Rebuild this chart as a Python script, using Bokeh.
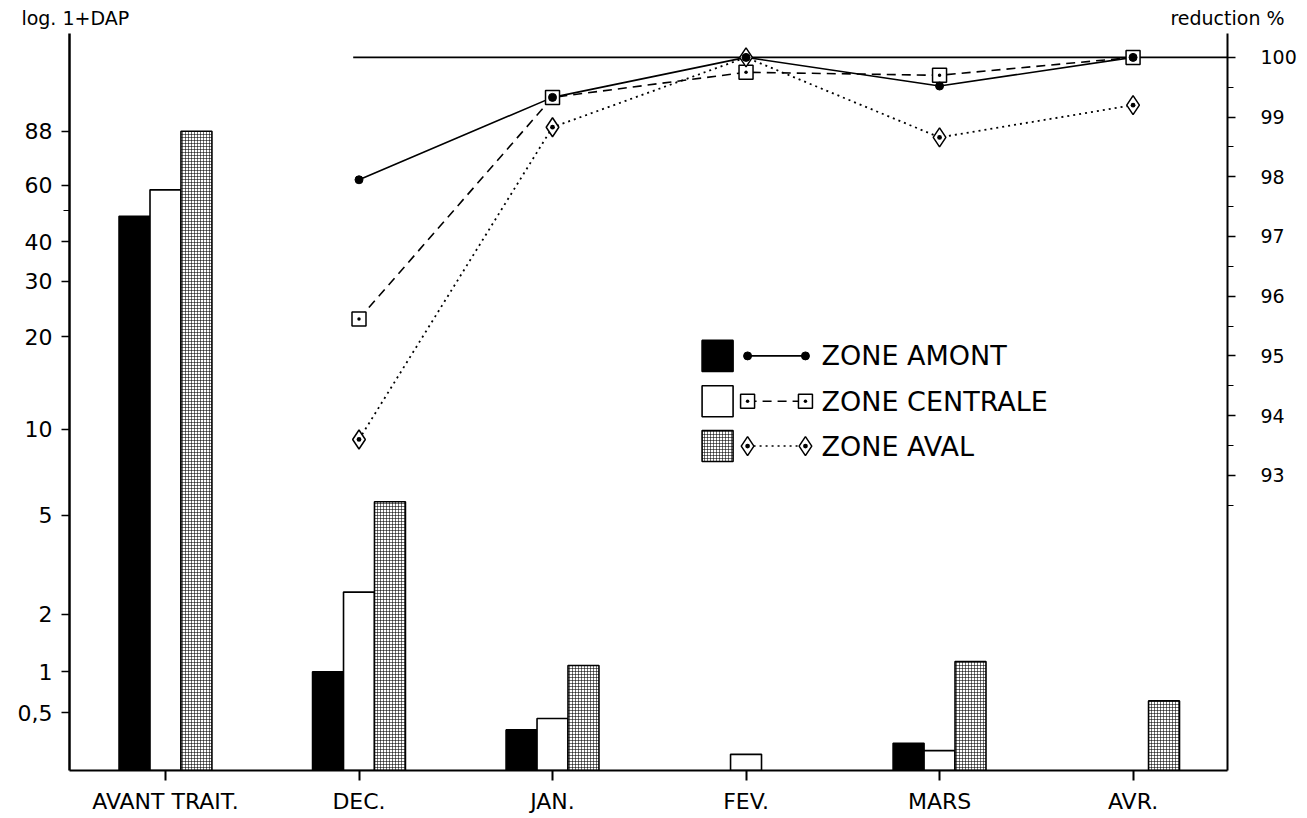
import math
from bokeh.plotting import figure
from bokeh.models import (Range1d, LinearAxis, LinearScale, FixedTicker)
from bokeh.embed import file_html
from bokeh.resources import INLINE
from bokeh.core.properties import value

# ---------------- data ----------------
categories = ["AVANT TRAIT.", "DEC.", "JAN.", "FEV.", "MARS", "AVR."]
# DAP values (bars, left log(1+DAP) axis); 0 = no bar
dap_amont = [48.0, 1.0, 0.33, 0.0, 0.21, 0.0]
dap_centrale = [58.0, 2.5, 0.44, 0.12, 0.15, 0.0]
dap_aval = [88.0, 5.6, 1.09, 0.0, 1.15, 0.63]

# reduction % (lines, right axis) for DEC..AVR
months = ["DEC.", "JAN.", "FEV.", "MARS", "AVR."]
red_amont = [97.95, 99.33, 100.0, 99.52, 100.0]
red_centrale = [95.62, 99.33, 99.75, 99.70, 100.0]
red_aval = [93.60, 98.83, 100.0, 98.66, 99.20]

left_ticks = [0.5, 1, 2, 5, 10, 20, 30, 40, 60, 88]
left_tick_labels = ["0,5", "1", "2", "5", "10", "20", "30", "40", "60", "88"]
left_minor = [50]
right_ticks = [93, 94, 95, 96, 97, 98, 99, 100]
right_minor = [92.5, 93.5, 94.5, 95.5, 96.5, 97.5, 98.5, 99.5]
legend_labels = ["ZONE AMONT", "ZONE CENTRALE", "ZONE AVAL"]
left_title = "log. 1+DAP"
right_title = "reduction %"

# ---------------- layout / style ----------------
FONT = "DejaVu Sans"
X_START, X_END = -0.496, 5.488
Y_TOP_LOG = 10 ** 2.2476
RED_RANGE = (88.056, 100.40)
BAR_W = 0.16
OFFSETS = [-0.16, 0.0, 0.16]

p = figure(width=1305, height=816, output_backend="svg", toolbar_location=None,
           x_range=Range1d(X_START, X_END), y_range=Range1d(1, Y_TOP_LOG),
           y_axis_type="log",
           min_border_left=69, min_border_right=78, min_border_top=33,
           min_border_bottom=44)
p.extra_y_ranges = {"red": Range1d(*RED_RANGE)}
p.extra_y_scales = {"red": LinearScale()}
p.outline_line_color = None
p.xgrid.visible = False
p.ygrid.visible = False
p.background_fill_color = "white"
p.border_fill_color = "white"

# x axis with category labels
xa = p.xaxis[0]
xa.ticker = FixedTicker(ticks=list(range(len(categories))), minor_ticks=[])
xa.major_label_overrides = {i: c for i, c in enumerate(categories)}
xa.major_label_text_font = FONT
xa.major_label_text_font_size = "22px"
xa.major_label_text_color = "black"
xa.major_label_standoff = 8
xa.major_tick_in = 0
xa.major_tick_out = 10
xa.minor_tick_out = 0
xa.axis_line_width = 2
xa.major_tick_line_width = 2

# top axis carrying the two axis titles as its labels
T_LEFT = X_START + 0.03
T_RIGHT = X_END - 1e-9
ta = LinearAxis(ticker=FixedTicker(ticks=[T_LEFT, T_RIGHT], minor_ticks=[]))
ta.major_label_overrides = {T_LEFT: left_title, T_RIGHT: right_title}
ta.major_label_text_font = FONT
ta.major_label_text_font_size = "19px"
ta.major_label_text_color = "black"
ta.major_label_standoff = 5
ta.major_tick_in = 0
ta.major_tick_out = 0
ta.minor_tick_out = 0
ta.axis_line_color = None
ta.major_tick_line_color = None
p.add_layout(ta, "above")

# left axis
ya = p.yaxis[0]
ya.ticker = FixedTicker(ticks=[1 + v for v in left_ticks],
                        minor_ticks=[1 + v for v in left_minor])
ya.major_label_overrides = {1 + v: lab for v, lab in zip(left_ticks, left_tick_labels)}
ya.major_label_text_font = FONT
ya.major_label_text_font_size = "22px"
ya.major_label_text_color = "black"
ya.major_label_standoff = 9
ya.major_tick_in = 0
ya.major_tick_out = 8
ya.minor_tick_in = 0
ya.minor_tick_out = 6
ya.axis_line_width = 2.5
ya.major_tick_line_width = 1.5

# right axis
ra = LinearAxis(y_range_name="red",
                ticker=FixedTicker(ticks=right_ticks, minor_ticks=right_minor))
ra.major_label_text_font = FONT
ra.major_label_text_font_size = "19px"
ra.major_label_text_color = "black"
ra.major_label_standoff = 25
ra.major_tick_in = 0
ra.major_tick_out = 8
ra.minor_tick_in = 0
ra.minor_tick_out = 6
ra.axis_line_width = 2
ra.major_tick_line_width = 1.5
p.add_layout(ra, "right")

# ---------------- bars ----------------
bar_styles = [
    dict(fill_color="black"),
    dict(fill_color="white"),
    dict(fill_color="white", hatch_pattern="cross", hatch_scale=3,
         hatch_weight=0.8, hatch_color="black", hatch_alpha=0.7),
]
for vals, off, st in zip([dap_amont, dap_centrale, dap_aval], OFFSETS, bar_styles):
    xs = [i + off for i, v in enumerate(vals) if v > 0]
    tops = [1 + v for v in vals if v > 0]
    p.vbar(x=xs, top=tops, bottom=1, width=BAR_W, line_color="black",
           line_width=1.6, **st)

# ---------------- lines ----------------
mx = [categories.index(m) for m in months]
# 100 % reference line
p.segment(x0=[mx[0] - 0.03], x1=[X_END], y0=[100], y1=[100],
          y_range_name="red", line_color="black", line_width=1.6)

p.line(mx, red_centrale, y_range_name="red", line_color="black",
       line_width=1.6, line_dash="9 6")
p.line(mx, red_aval, y_range_name="red", line_color="black",
       line_width=1.8, line_dash="2 4")
p.line(mx, red_amont, y_range_name="red", line_color="black", line_width=1.6)
p.scatter(mx, red_centrale, y_range_name="red", marker="square_dot", size=14,
          fill_color="white", line_color="black", line_width=1.5)
p.scatter(mx, red_aval, y_range_name="red", marker="diamond_dot", size=19,
          fill_color="white", line_color="black", line_width=1.5)
p.scatter(mx, red_amont, y_range_name="red", marker="circle", size=8,
          fill_color="black", line_color="black")

# ---------------- legend (drawn) ----------------
LEG_X = 2.853
LEG_LX0, LEG_LX1 = 3.008, 3.307
LEG_TX = 3.39
LEG_Y = [95.0, 94.24, 93.49]
line_dashes = ["solid", "9 6", "2 4"]
markers = [dict(marker="circle", size=8, fill_color="black"),
           dict(marker="square_dot", size=14, fill_color="white", line_width=1.5),
           dict(marker="diamond_dot", size=19, fill_color="white", line_width=1.5)]
for i, (lab, st, dash, mk) in enumerate(zip(legend_labels, bar_styles, line_dashes, markers)):
    y = LEG_Y[i]
    p.rect(x=[LEG_X], y=[y], width=31, height=31, width_units="screen",
           height_units="screen", y_range_name="red", line_color="black",
           line_width=1.6, **st)
    p.line([LEG_LX0, LEG_LX1], [y, y], y_range_name="red", line_color="black",
           line_width=1.6, line_dash=dash)
    p.scatter([LEG_LX0, LEG_LX1], [y, y], y_range_name="red",
              line_color="black", **mk)
    p.text(x=[LEG_TX], y=[y], text=[lab], y_range_name="red",
           text_font=value(FONT), text_font_size="27px", text_color="black",
           text_baseline="middle", text_align="left")

open("out.html", "w").write(file_html(p, INLINE))
